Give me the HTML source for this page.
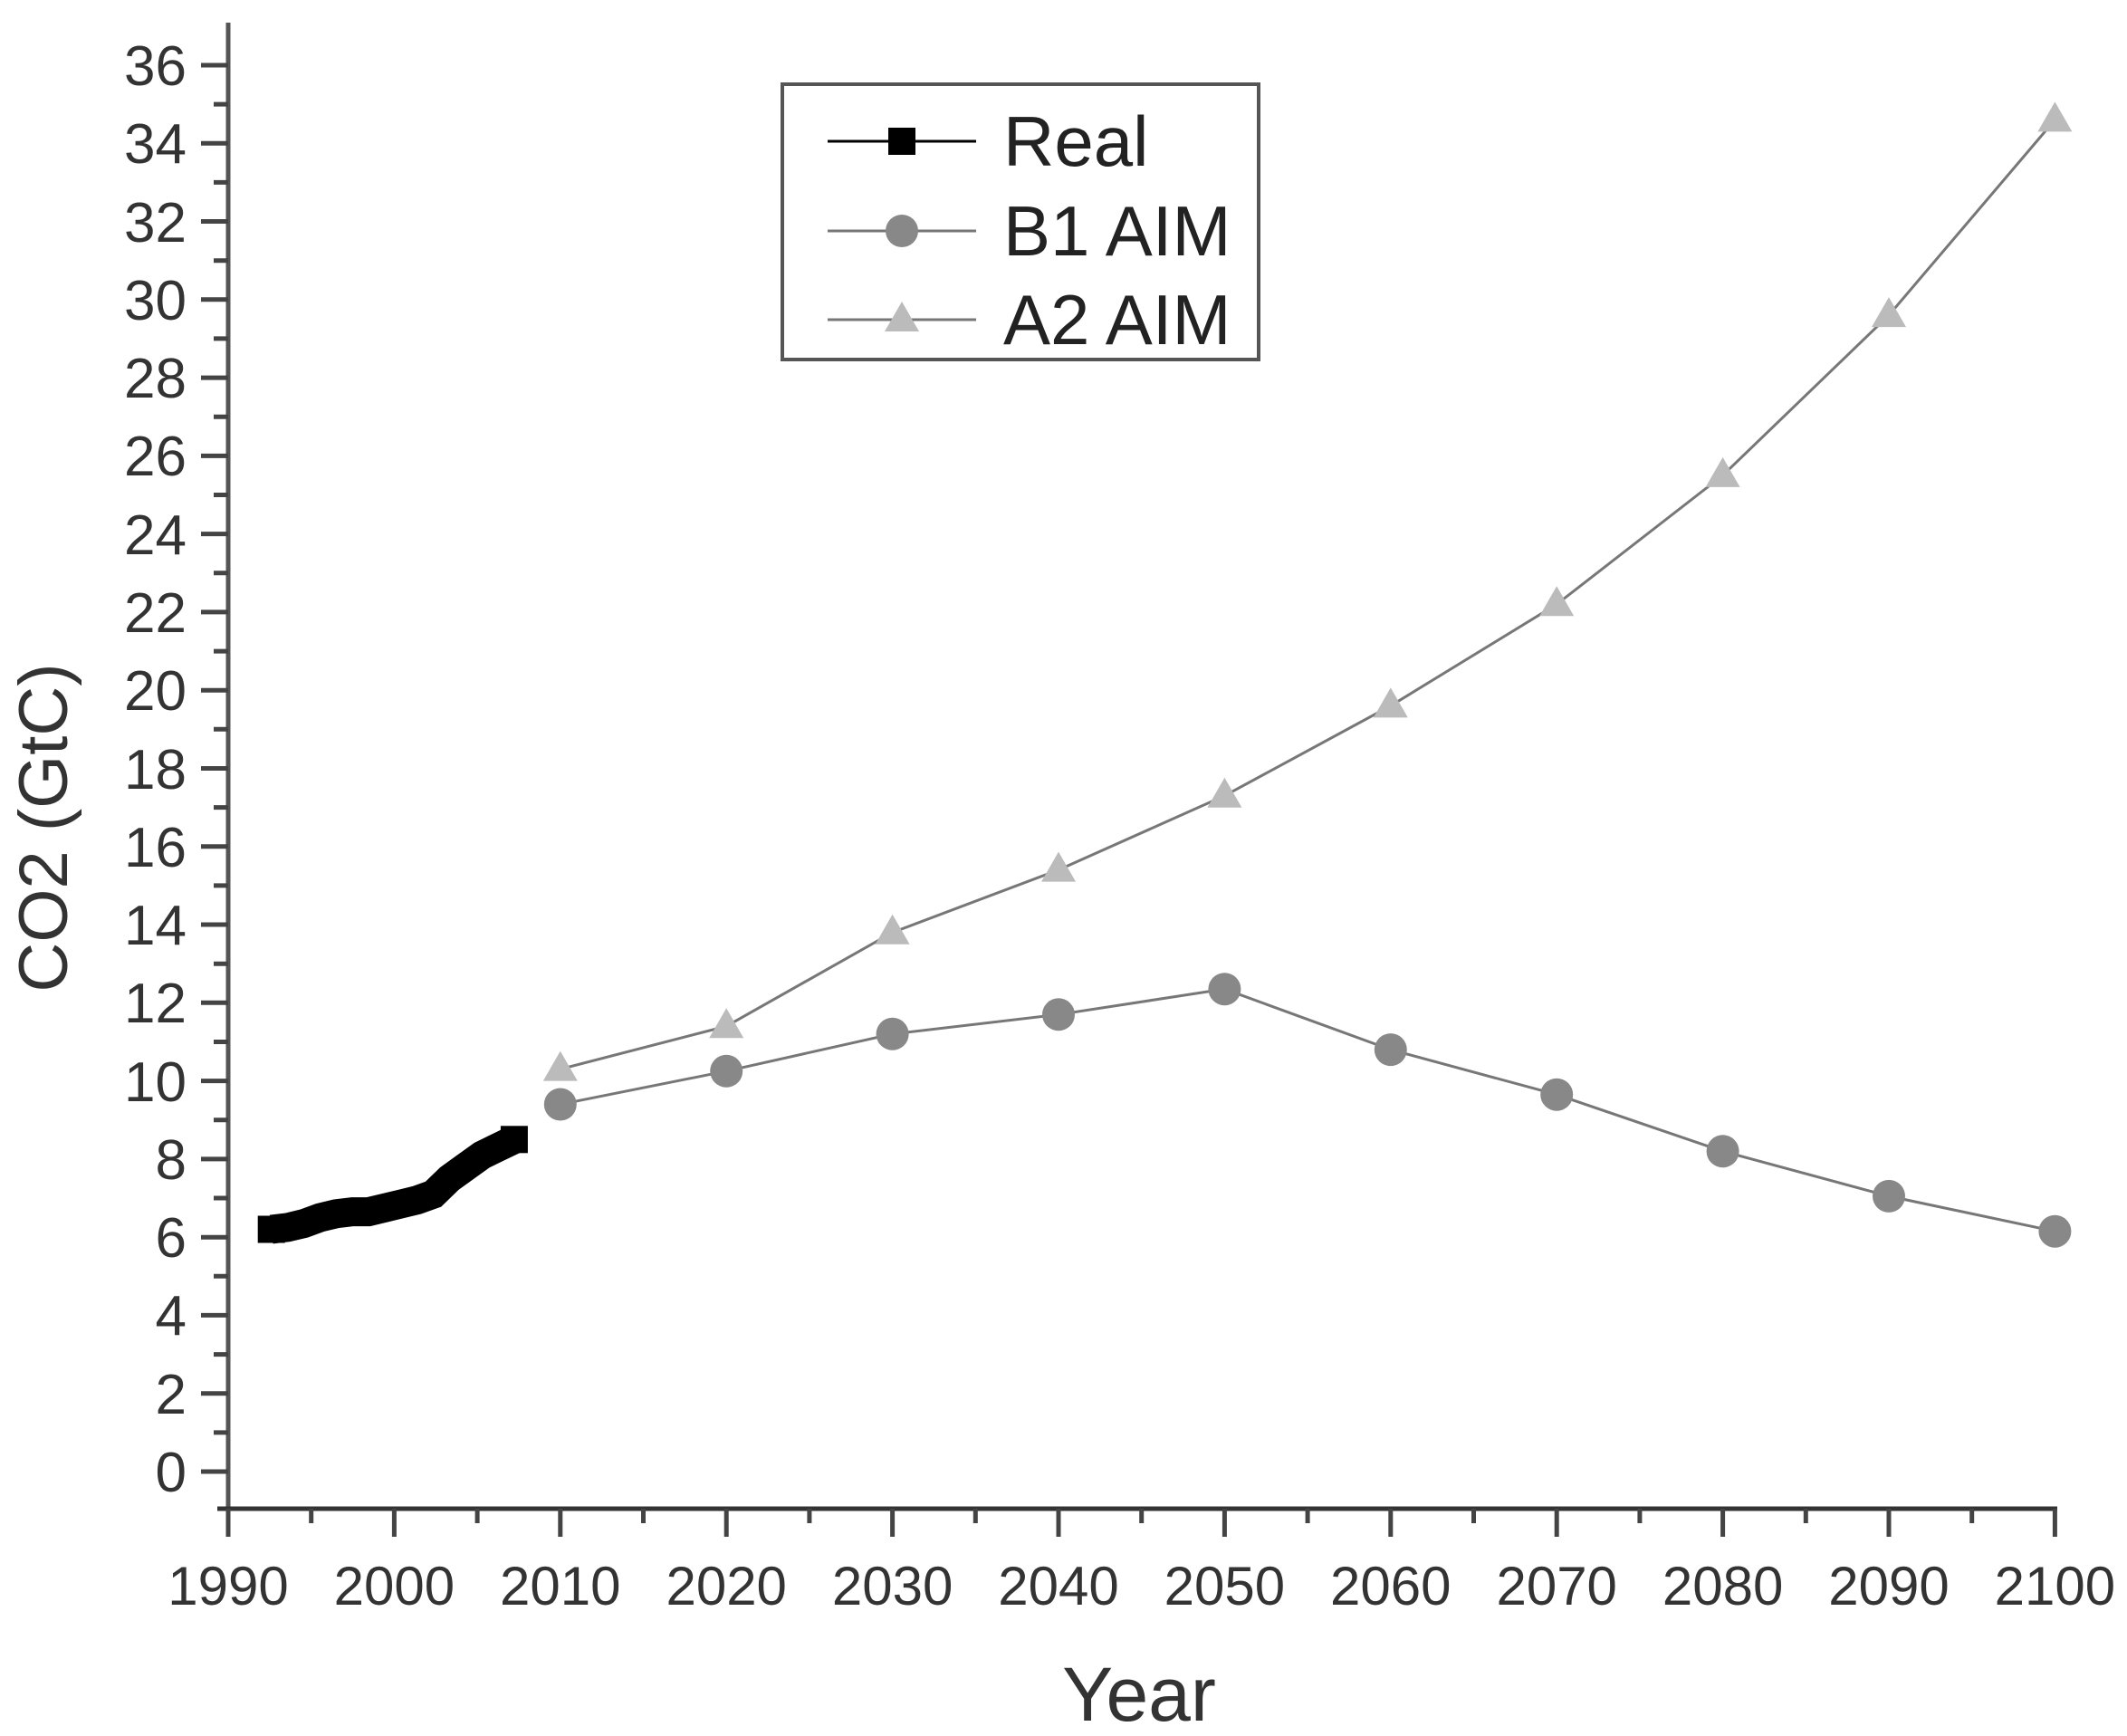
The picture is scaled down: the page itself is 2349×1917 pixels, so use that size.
<!DOCTYPE html><html><head><style>body{margin:0;background:#fff}svg{display:block}</style></head><body>
<svg width="2349" height="1917" xmlns="http://www.w3.org/2000/svg" font-family="Liberation Sans, sans-serif">
<line x1="252" y1="25" x2="252" y2="1690" stroke="#555" stroke-width="5"/>
<line x1="240" y1="1666" x2="2272" y2="1666" stroke="#333" stroke-width="5"/>
<g stroke="#444" stroke-width="5">
<path d="M222 1625H252M222 1538.7H252M222 1452.4H252M222 1366.2H252M222 1279.9H252M222 1193.6H252M222 1107.3H252M222 1021H252M222 934.8H252M222 848.5H252M222 762.2H252M222 675.9H252M222 589.6H252M222 503.4H252M222 417.1H252M222 330.8H252M222 244.5H252M222 158.2H252M222 72H252"/>
<path d="M236 1581.9H252M236 1495.6H252M236 1409.3H252M236 1323H252M236 1236.7H252M236 1150.5H252M236 1064.2H252M236 977.9H252M236 891.6H252M236 805.3H252M236 719.1H252M236 632.8H252M236 546.5H252M236 460.2H252M236 373.9H252M236 287.7H252M236 201.4H252M236 115.1H252"/>
<path d="M252 1666V1697M435.4 1666V1697M618.8 1666V1697M802.2 1666V1697M985.6 1666V1697M1169 1666V1697M1352.4 1666V1697M1535.8 1666V1697M1719.2 1666V1697M1902.6 1666V1697M2086 1666V1697M2269.4 1666V1697"/>
<path d="M343.7 1666V1682M527.1 1666V1682M710.5 1666V1682M893.9 1666V1682M1077.3 1666V1682M1260.7 1666V1682M1444.1 1666V1682M1627.5 1666V1682M1810.9 1666V1682M1994.3 1666V1682M2177.7 1666V1682"/>
</g>
<g font-size="62" fill="#333" text-anchor="end">
<text x="206" y="1647">0</text><text x="206" y="1561">2</text><text x="206" y="1474">4</text><text x="206" y="1388">6</text><text x="206" y="1302">8</text><text x="206" y="1216">10</text><text x="206" y="1129">12</text><text x="206" y="1043">14</text><text x="206" y="957">16</text><text x="206" y="871">18</text><text x="206" y="784">20</text><text x="206" y="698">22</text><text x="206" y="612">24</text><text x="206" y="525">26</text><text x="206" y="439">28</text><text x="206" y="353">30</text><text x="206" y="267">32</text><text x="206" y="180">34</text><text x="206" y="94">36</text>
</g>
<g font-size="60" fill="#333" text-anchor="middle">
<text x="252" y="1772">1990</text><text x="435.4" y="1772">2000</text><text x="618.8" y="1772">2010</text><text x="802.2" y="1772">2020</text><text x="985.6" y="1772">2030</text><text x="1169" y="1772">2040</text><text x="1352.4" y="1772">2050</text><text x="1535.8" y="1772">2060</text><text x="1719.2" y="1772">2070</text><text x="1902.6" y="1772">2080</text><text x="2086" y="1772">2090</text><text x="2269.4" y="1772">2100</text>
</g>
<text x="1258" y="1900" font-size="84" text-anchor="middle" fill="#333">Year</text>
<text transform="translate(74,914) rotate(-90)" font-size="76" text-anchor="middle" fill="#333">CO2 (GtC)</text>
<polyline fill="none" stroke="#777" stroke-width="3" points="618.8,1180.6 802.2,1133.2 985.6,1029.7 1169,960.6 1352.4,878.7 1535.8,779.4 1719.2,667.3 1902.6,524.9 2086,348.1 2269.4,132.4"/>
<polyline fill="none" stroke="#777" stroke-width="3" points="618.8,1219.5 802.2,1182.8 985.6,1141.8 1169,1120.3 1352.4,1092.2 1535.8,1159.1 1719.2,1208.7 1902.6,1271.3 2086,1320.9 2269.4,1359.7"/>
<polyline fill="none" stroke="#000" stroke-width="32" points="299.7,1357.5 317.6,1355.4 335.5,1351.1 353.3,1344.6 371.2,1340.3 389.1,1338.1 407,1338.1 424.9,1333.8 442.8,1329.5 460.6,1325.2 478.5,1318.7 496.4,1301.4 514.3,1288.5 532.2,1275.6 550.1,1266.9 567.9,1258.3"/>
<g fill="#000">
<rect x="284.7" y="1342.5" width="30" height="30"/><rect x="552.9" y="1243.3" width="30" height="30"/>
</g>
<g fill="#888">
<circle cx="618.8" cy="1219.5" r="18"/><circle cx="802.2" cy="1182.8" r="18"/><circle cx="985.6" cy="1141.8" r="18"/><circle cx="1169" cy="1120.3" r="18"/><circle cx="1352.4" cy="1092.2" r="18"/><circle cx="1535.8" cy="1159.1" r="18"/><circle cx="1719.2" cy="1208.7" r="18"/><circle cx="1902.6" cy="1271.3" r="18"/><circle cx="2086" cy="1320.9" r="18"/><circle cx="2269.4" cy="1359.7" r="18"/>
</g>
<g fill="#bbb">
<polygon points="618.8,1160.6 599.8,1193.6 637.8,1193.6"/>
<polygon points="802.2,1113.2 783.2,1146.2 821.2,1146.2"/>
<polygon points="985.6,1009.7 966.6,1042.7 1004.6,1042.7"/>
<polygon points="1169,940.6 1150,973.6 1188,973.6"/>
<polygon points="1352.4,858.7 1333.4,891.7 1371.4,891.7"/>
<polygon points="1535.8,759.4 1516.8,792.4 1554.8,792.4"/>
<polygon points="1719.2,647.3 1700.2,680.3 1738.2,680.3"/>
<polygon points="1902.6,504.9 1883.6,537.9 1921.6,537.9"/>
<polygon points="2086,328.1 2067,361.1 2105,361.1"/>
<polygon points="2269.4,112.4 2250.4,145.4 2288.4,145.4"/>
</g>
<rect x="864" y="93" width="526" height="304" fill="#fff" stroke="#555" stroke-width="4"/>
<line x1="914" y1="156" x2="1078" y2="156" stroke="#000" stroke-width="3"/>
<rect x="981" y="141" width="30" height="30" fill="#000"/>
<line x1="914" y1="255" x2="1078" y2="255" stroke="#777" stroke-width="3"/>
<circle cx="996" cy="255" r="18" fill="#888"/>
<line x1="914" y1="353" x2="1078" y2="353" stroke="#777" stroke-width="3"/>
<polygon points="996,333 977,366 1015,366" fill="#bbb"/>
<g font-size="78" fill="#222">
<text x="1108" y="183">Real</text><text x="1108" y="282">B1 AIM</text><text x="1108" y="380">A2 AIM</text>
</g>
</svg></body></html>
